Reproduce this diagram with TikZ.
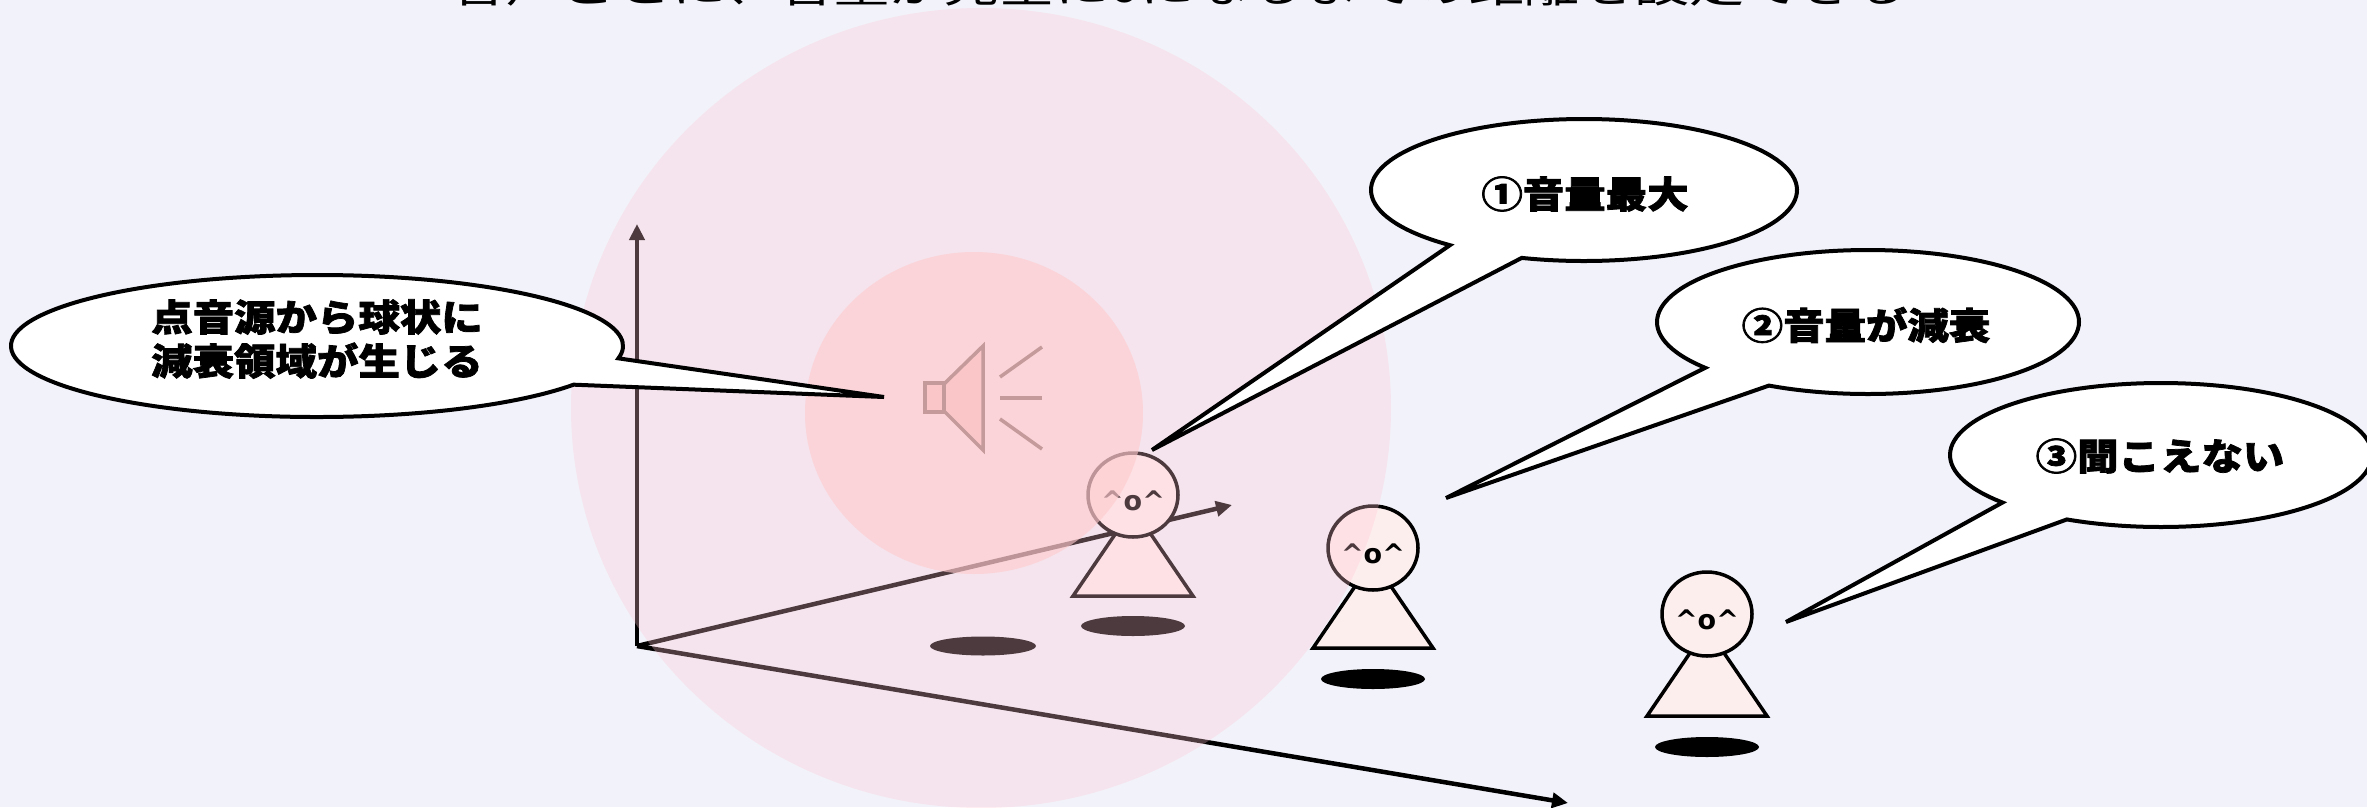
\documentclass[tikz,border=0pt]{standalone}
\usepackage{fontspec}
\newfontfamily\jpfont[FakeStretch=1.25]{Noto Sans CJK JP}
\newfontfamily\jpbubble[FakeStretch=1.12,FakeBold=2]{Noto Sans CJK JP}
\newfontfamily\facefont{DejaVu Sans}
\usetikzlibrary{arrows.meta,shapes.geometric,calc}

\definecolor{bg}{RGB}{242,243,250}
\definecolor{outerzone}{RGB}{255,195,210}
\definecolor{innerzone}{RGB}{255,203,206}
\definecolor{personfill}{RGB}{253,238,238}
\definecolor{spk}{RGB}{196,154,154}
\definecolor{spkfill}{RGB}{251,198,200}

\tikzset{
  axis/.style={draw=black, line width=4.5pt, -{Triangle[length=16pt,width=15pt]}},
  floorshadow/.style={fill=black},
  body/.style={draw=black, line width=3.5pt, fill=personfill, line join=miter},
  head/.style={ellipse, draw=black, line width=3.5pt, fill=personfill,
    minimum width=90pt, minimum height=84pt, inner sep=0pt},
  face/.style={font=\facefont\bfseries\fontsize{27}{27}\selectfont, inner sep=0pt},
  bubble/.style={draw=black, fill=white, line width=4pt, line join=miter},
  btext/.style={font=\jpbubble\bfseries\fontsize{37}{44}\selectfont, align=center, inner sep=0pt},
  toptext/.style={font=\jpfont\fontsize{44}{44}\selectfont, inner sep=0pt},
  spkline/.style={draw=spk, line width=3.5pt},
}

% a listener: name, x, head y, body base y, floor shadow y
\newcommand\listener[5]{%
  \fill[floorshadow] (#2,#5) ellipse[x radius=52, y radius=10];
  \draw[body] (#2-60,#4) -- (#2,#4-88) -- (#2+60,#4) -- cycle;
  \node[head] (#1) at (#2,#3) {};
  \node[face] (#1-face) at (#2,#3+6) {\textasciicircum o\textasciicircum};
}

\begin{document}
\begin{tikzpicture}[x=1pt,y=-1pt]
\useasboundingbox (0,0) rectangle (2367,807);
\clip (0,0) rectangle (2367,807);
\fill[bg] (0,0) rectangle (2367,807);

% coordinate axes
\coordinate (O) at (637,646);
\coordinate (ytip) at (637,224);
\coordinate (xtip) at (1232,505);
\coordinate (ztip) at (1568,803);
\draw[axis] (O) -- (ytip);
\draw[axis] (O) -- (xtip);
\draw[axis] (O) -- (ztip);

% floor shadow of the sound source
\fill[floorshadow] (983,646) ellipse[x radius=53, y radius=9.5];

% listeners at increasing distance
\listener{near}{1133}{495}{596}{626}
\listener{mid}{1373}{548}{648}{679}
\listener{far}{1707}{614}{716}{747}

% attenuation zones around the source
\fill[outerzone, opacity=0.30] (981,408) ellipse[x radius=410, y radius=400];
\fill[innerzone, opacity=0.63] (974,413) ellipse[x radius=169, y radius=161];

% speaker icon
\draw[spkline, fill=spkfill] (925,383) rectangle (944,412);
\draw[spkline, fill=spkfill, line join=miter] (944,384) -- (983,346) -- (983,450) -- (944,411) -- cycle;
\coordinate (spk) at (925,398);
\draw[spkline] (1000,377) -- (1042,347);
\draw[spkline] (1000,398) -- (1042,398);
\draw[spkline] (1000,419) -- (1042,449);

% speech bubbles
\coordinate (c1) at (317,346);
\coordinate (tip1) at (884,397);
\path[bubble] (tip1) -- ($(c1)+(33:306 and 71)$)
  arc[start angle=33, end angle=370, x radius=306, y radius=71] -- cycle;
\node[btext] (t1) at (317,339) {点音源から球状に\\減衰領域が生じる};

\coordinate (c2) at (1584,190);
\coordinate (tip2) at (1152,450);
\path[bubble] (tip2) -- ($(c2)+(129:213 and 71)$)
  arc[start angle=129, end angle=467, x radius=213, y radius=71] -- cycle;
\node[btext] (t2) at (1585,194) {①音量最大};

\coordinate (c3) at (1868,322);
\coordinate (tip3) at (1446,498);
\path[bubble] (tip3) -- ($(c3)+(140.5:211 and 72)$)
  arc[start angle=140.5, end angle=478, x radius=211, y radius=72] -- cycle;
\node[btext] (t3) at (1866,325) {②音量が減衰};

\coordinate (c4) at (2161,455);
\coordinate (tip4) at (1786,622);
\path[bubble] (tip4) -- ($(c4)+(138.7:211 and 72)$)
  arc[start angle=138.7, end angle=476.5, x radius=211, y radius=72] -- cycle;
\node[btext] (t4) at (2160,456) {③聞こえない};

% heading along the top edge
\node[toptext, anchor=base] (title) at (1180,2) {音声ごとに、音量が完全に0になるまでの距離を設定できる};
\end{tikzpicture}
\end{document}
